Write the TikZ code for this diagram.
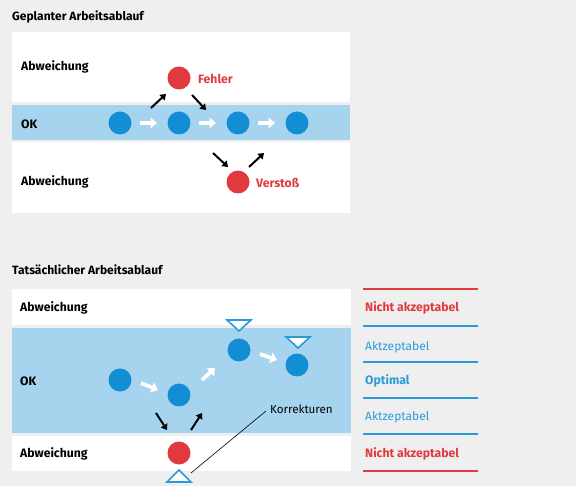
\documentclass[tikz,border=0pt]{standalone}
\usepackage{fontspec}
\setmainfont{Fira Sans}
\usetikzlibrary{arrows.meta,calc}
\definecolor{bg}{HTML}{EFEFEF}
\definecolor{band}{HTML}{A6D4EF}
\definecolor{dot}{HTML}{128ED4}
\definecolor{rd}{HTML}{E03A3F}
\definecolor{lgblue}{HTML}{2A9BDA}
\begin{document}
\begin{tikzpicture}[x=1pt,y=-1pt,
  dotb/.style={circle,fill=dot,minimum size=23pt,inner sep=0pt},
  dotr/.style={circle,fill=rd,minimum size=23pt,inner sep=0pt},
  lbl/.style={font=\bfseries\fontsize{12.2}{14}\selectfont,anchor=west,inner sep=0pt},
  ttl/.style={font=\bfseries\fontsize{12}{14}\selectfont,anchor=west,inner sep=0pt},
  redlbl/.style={font=\bfseries\fontsize{12.2}{14}\selectfont,text=rd,anchor=west,inner sep=0pt},
  leg/.style={font=\fontsize{12}{14}\selectfont,text=lgblue,anchor=west,inner sep=0pt},
  wa/.style={draw=white,line width=3.8pt,-{Triangle[length=6.5pt,width=10.5pt]}},
  ba/.style={draw=black,line width=2pt,-{Triangle[length=5.5pt,width=7.5pt]}},
  tri/.style={draw=lgblue,fill=white,line width=1.6pt,line join=miter},
  rline/.style={draw=rd,line width=1.2pt},
  bline/.style={draw=lgblue,line width=1.2pt}]
% background
\fill[bg] (0,0) rectangle (576,486);
\useasboundingbox (0,0) rectangle (576,486);

% ===== top section =====
\node[ttl] (t1) at (12,17) {Geplanter Arbeitsablauf};
\fill[white] (12,32) rectangle (350,102.5);
\fill[band] (12,105) rectangle (350,140);
\fill[white] (12,142.5) rectangle (350,213);
\node[lbl] (a1) at (21,67) {Abweichung};
\node[lbl] (ok1) at (21,124) {OK};
\node[lbl] (a2) at (21,182) {Abweichung};

\node[dotb] (p1) at (120,123) {};
\node[dotb] (p2) at (179,123) {};
\node[dotb] (p3) at (238,123) {};
\node[dotb] (p4) at (297,123) {};
\node[dotr] (f) at (179,78) {};
\node[redlbl] (fl) at (198,79) {Fehler};
\node[dotr] (v) at (238,182) {};
\node[redlbl] (vl) at (256,183) {Verstoß};

\draw[wa] (p1) ++(20,0) coordinate (w1s) -- ($(p2)+(-22,0)$) coordinate (w1e);
\draw[wa] (p2) ++(20,0) coordinate (w2s) -- ($(p3)+(-22,0)$) coordinate (w2e);
\draw[wa] (p3) ++(20,0) coordinate (w3s) -- ($(p4)+(-22,0)$) coordinate (w3e);

\coordinate (b1s) at (151,108); \coordinate (b1e) at (166,94);
\coordinate (b2s) at (192,95);  \coordinate (b2e) at (206,110);
\coordinate (b3s) at (213,153); \coordinate (b3e) at (228,167);
\coordinate (b4s) at (249,167); \coordinate (b4e) at (264,153);
\draw[ba] (b1s) -- (b1e);
\draw[ba] (b2s) -- (b2e);
\draw[ba] (b3s) -- (b3e);
\draw[ba] (b4s) -- (b4e);

% ===== bottom section =====
\node[ttl] (t2) at (12,270) {Tatsächlicher Arbeitsablauf};
\fill[white] (12,289) rectangle (351,325.5);
\fill[band] (12,328) rectangle (351,433);
\fill[white] (12,435.5) rectangle (351,471);
\node[lbl] (a3) at (20,308) {Abweichung};
\node[lbl] (ok2) at (20,381) {OK};
\node[lbl] (a4) at (20,454) {Abweichung};

\node[dotb] (q1) at (120,380) {};
\node[dotb] (q2) at (179,395) {};
\node[dotb] (q3) at (239,350) {};
\node[dotb] (q4) at (297,365) {};
\node[dotr] (r) at (179,453) {};

\coordinate (x1s) at (141,383); \coordinate (x1e) at (158,390);
\coordinate (x2s) at (202,380); \coordinate (x2e) at (215,368);
\coordinate (x3s) at (260,354); \coordinate (x3e) at (277,360);
\draw[wa] (x1s) -- (x1e);
\draw[wa] (x2s) -- (x2e);
\draw[wa] (x3s) -- (x3e);

\coordinate (y1s) at (156,413); \coordinate (y1e) at (167,430);
\coordinate (y2s) at (191,430); \coordinate (y2e) at (202,413);
\draw[ba] (y1s) -- (y1e);
\draw[ba] (y2s) -- (y2e);

% triangles
\draw[tri] (227,320) -- (251,320) -- (239,331) -- cycle;
\draw[tri] (286,337) -- (310,337) -- (298,348) -- cycle;
\draw[tri] (179,470) -- (191,482) -- (167,482) -- cycle;
\coordinate (kt) at (191,473);

\node[font=\fontsize{11.6}{14}\selectfont,anchor=west,inner sep=0pt] (kl) at (270,409) {Korrekturen};
\draw[black,line width=0.6pt] (kl.west) ++(-4,2) coordinate (ks) -- (kt);

% legend
\draw[rline] (363,289) -- (478,289);
\draw[bline] (363,326) -- (478,326);
\draw[bline] (363,362) -- (478,362);
\draw[bline] (363,398) -- (478,398);
\draw[bline] (363,434) -- (478,434);
\draw[rline] (363,471) -- (478,471);
\node[redlbl] (n1) at (365,308) {Nicht akzeptabel};
\node[leg] (ak1) at (365,347) {Aktzeptabel};
\node[leg,font=\bfseries\fontsize{12.2}{14}\selectfont] (op) at (365,381) {Optimal};
\node[leg] (ak2) at (365,417) {Aktzeptabel};
\node[redlbl] (n2) at (365,454) {Nicht akzeptabel};
\end{tikzpicture}
\end{document}
